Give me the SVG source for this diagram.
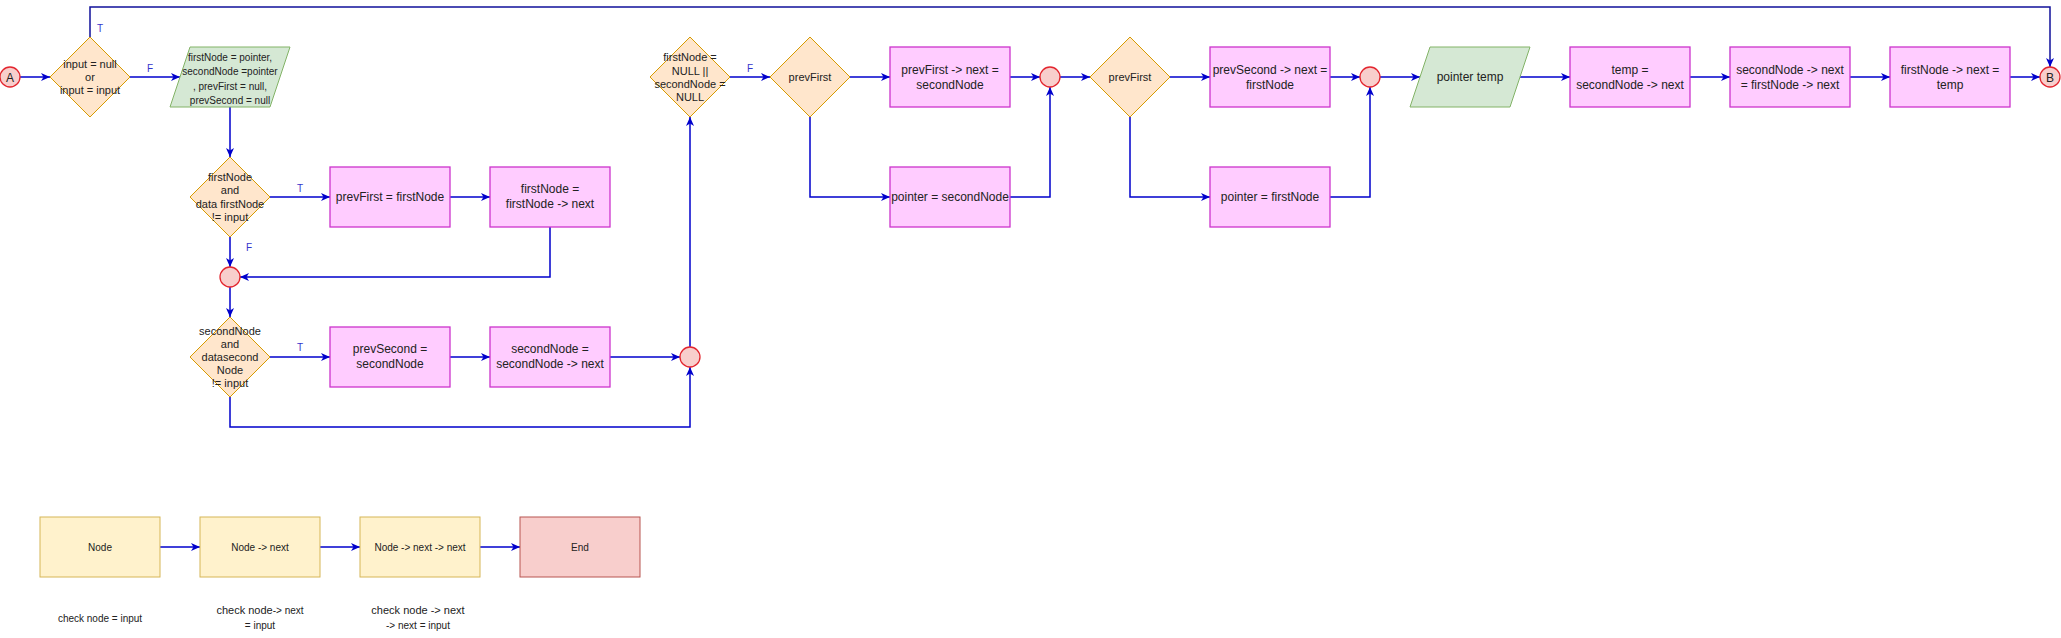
<svg xmlns="http://www.w3.org/2000/svg" width="2061" height="638" viewBox="0 0 2061 638">
<style>
text{font-family:"Liberation Sans",Arial,sans-serif;fill:#222;text-anchor:middle}
.dia{fill:#ffe6cc;stroke:#d79b00;stroke-width:1}
.proc{fill:#ffccff;stroke:#cc33cc;stroke-width:1.3}
.io{fill:#d5e8d4;stroke:#82b366;stroke-width:1}
.con{fill:#f8cecc;stroke:#e3262f;stroke-width:1.3}
.yel{fill:#fff2cc;stroke:#d6b656;stroke-width:1}
.end{fill:#f8cecc;stroke:#b85450;stroke-width:1}
.e{fill:none;stroke:#0000cc;stroke-width:1.5;marker-end:url(#arr)}
.top{stroke:#10109a}
.lbl{font-size:10px;fill:#3333cc}
.f10{font-size:10px}.f11{font-size:11px}.f12{font-size:12px}
</style>
<defs>
<marker id="arr" markerUnits="userSpaceOnUse" markerWidth="10" markerHeight="8" refX="9" refY="4" orient="auto">
<path d="M0,0 L9,4 L0,8 L2.5,4 z" fill="#0000cc"/>
</marker>
</defs>

<g id="connectors">
<path class="e" d="M20,77 H50"/>
<path class="e" d="M130,77 H180"/>
<path class="e top" d="M90,37 V7 H2050 V67"/>
<path class="e" d="M230,107 V157"/>
<path class="e" d="M270,197 H330"/>
<path class="e" d="M450,197 H490"/>
<path class="e" d="M550,227 V277 H240"/>
<path class="e" d="M230,237 V267"/>
<path class="e" d="M230,287 V317"/>
<path class="e" d="M270,357 H330"/>
<path class="e" d="M450,357 H490"/>
<path class="e" d="M610,357 H680"/>
<path class="e" d="M230,397 V427 H690 V367"/>
<path class="e" d="M690,347 V117"/>
<path class="e" d="M730,77 H770"/>
<path class="e" d="M850,77 H890"/>
<path class="e" d="M1010,77 H1040"/>
<path class="e" d="M810,117 V197 H890"/>
<path class="e" d="M1010,197 H1050 V87"/>
<path class="e" d="M1060,77 H1090"/>
<path class="e" d="M1170,77 H1210"/>
<path class="e" d="M1330,77 H1360"/>
<path class="e" d="M1130,117 V197 H1210"/>
<path class="e" d="M1330,197 H1370 V87"/>
<path class="e" d="M1380,77 H1420"/>
<path class="e" d="M1520,77 H1570"/>
<path class="e" d="M1690,77 H1730"/>
<path class="e" d="M1850,77 H1890"/>
<path class="e" d="M2010,77 H2040"/>
<path class="e" d="M160,547 H200"/>
<path class="e" d="M320,547 H360"/>
<path class="e" d="M480,547 H520"/>
<text class="lbl" x="100" y="31.5">T</text>
<text class="lbl" x="150" y="71.5">F</text>
<text class="lbl" x="300" y="191.5">T</text>
<text class="lbl" x="249" y="250.5">F</text>
<text class="lbl" x="300" y="350.5">T</text>
<text class="lbl" x="750" y="71.5">F</text>
</g>

<g id="startA"><circle class="con" cx="10" cy="77" r="10"/><text class="f12" x="10" y="81.5">A</text></g>

<g id="dec1"><path class="dia" d="M90,37 L130,77 L90,117 L50,77 z"/>
<text class="f11"><tspan x="90" y="68">input = null</tspan><tspan x="90" y="81">or</tspan><tspan x="90" y="94">input = input</tspan></text></g>

<g id="init"><path class="io" d="M190,47 H290 L270,107 H170 z"/>
<text class="f10"><tspan x="230" y="60.5">firstNode = pointer,</tspan><tspan x="230" y="74.5">secondNode =pointer</tspan><tspan x="230" y="89.5">, prevFirst = null,</tspan><tspan x="230" y="103.5">prevSecond = null</tspan></text></g>

<g id="dec2"><path class="dia" d="M230,157 L270,197 L230,237 L190,197 z"/>
<text class="f11"><tspan x="230" y="181">firstNode</tspan><tspan x="230" y="194">and</tspan><tspan x="230" y="208">data firstNode</tspan><tspan x="230" y="221">!= input</tspan></text></g>

<g id="p1"><rect class="proc" x="330" y="167" width="120" height="60"/><text class="f12" x="390" y="201">prevFirst = firstNode</text></g>
<g id="p2"><rect class="proc" x="490" y="167" width="120" height="60"/><text class="f12"><tspan x="550" y="193">firstNode =</tspan><tspan x="550" y="208">firstNode -&gt; next</tspan></text></g>

<g id="join1"><circle class="con" cx="230" cy="277" r="10"/></g>

<g id="dec3"><path class="dia" d="M230,317 L270,357 L230,397 L190,357 z"/>
<text class="f11"><tspan x="230" y="335">secondNode</tspan><tspan x="230" y="348">and</tspan><tspan x="230" y="361">datasecond</tspan><tspan x="230" y="374">Node</tspan><tspan x="230" y="387">!= input</tspan></text></g>

<g id="p3"><rect class="proc" x="330" y="327" width="120" height="60"/><text class="f12"><tspan x="390" y="353">prevSecond =</tspan><tspan x="390" y="368">secondNode</tspan></text></g>
<g id="p4"><rect class="proc" x="490" y="327" width="120" height="60"/><text class="f12"><tspan x="550" y="353">secondNode =</tspan><tspan x="550" y="368">secondNode -&gt; next</tspan></text></g>

<g id="join2"><circle class="con" cx="690" cy="357" r="10"/></g>

<g id="dec4"><path class="dia" d="M690,37 L730,77 L690,117 L650,77 z"/>
<text class="f11"><tspan x="690" y="61">firstNode =</tspan><tspan x="690" y="75">NULL ||</tspan><tspan x="690" y="88">secondNode =</tspan><tspan x="690" y="101">NULL</tspan></text></g>

<g id="dec5"><path class="dia" d="M810,37 L850,77 L810,117 L770,77 z"/><text class="f11" x="810" y="81">prevFirst</text></g>
<g id="p5"><rect class="proc" x="890" y="47" width="120" height="60"/><text class="f12"><tspan x="950" y="74">prevFirst -&gt; next =</tspan><tspan x="950" y="89">secondNode</tspan></text></g>
<g id="p6"><rect class="proc" x="890" y="167" width="120" height="60"/><text class="f12" x="950" y="201">pointer = secondNode</text></g>
<g id="join3"><circle class="con" cx="1050" cy="77" r="10"/></g>

<g id="dec6"><path class="dia" d="M1130,37 L1170,77 L1130,117 L1090,77 z"/><text class="f11" x="1130" y="81">prevFirst</text></g>
<g id="p7"><rect class="proc" x="1210" y="47" width="120" height="60"/><text class="f12"><tspan x="1270" y="74">prevSecond -&gt; next =</tspan><tspan x="1270" y="89">firstNode</tspan></text></g>
<g id="p8"><rect class="proc" x="1210" y="167" width="120" height="60"/><text class="f12" x="1270" y="201">pointer = firstNode</text></g>
<g id="join4"><circle class="con" cx="1370" cy="77" r="10"/></g>

<g id="tempdecl"><path class="io" d="M1430,47 H1530 L1510,107 H1410 z"/><text class="f12" x="1470" y="81">pointer temp</text></g>
<g id="p9"><rect class="proc" x="1570" y="47" width="120" height="60"/><text class="f12"><tspan x="1630" y="74">temp =</tspan><tspan x="1630" y="89">secondNode -&gt; next</tspan></text></g>
<g id="p10"><rect class="proc" x="1730" y="47" width="120" height="60"/><text class="f12"><tspan x="1790" y="74">secondNode -&gt; next</tspan><tspan x="1790" y="89">= firstNode -&gt; next</tspan></text></g>
<g id="p11"><rect class="proc" x="1890" y="47" width="120" height="60"/><text class="f12"><tspan x="1950" y="74">firstNode -&gt; next =</tspan><tspan x="1950" y="89">temp</tspan></text></g>
<g id="endB"><circle class="con" cx="2050" cy="77" r="10"/><text class="f12" x="2050" y="81.5">B</text></g>

<g id="n1"><rect class="yel" x="40" y="517" width="120" height="60"/><text class="f10" x="100" y="550.5">Node</text></g>
<g id="n2"><rect class="yel" x="200" y="517" width="120" height="60"/><text class="f10" x="260" y="550.5">Node -&gt; next</text></g>
<g id="n3"><rect class="yel" x="360" y="517" width="120" height="60"/><text class="f10" x="420" y="550.5">Node -&gt; next -&gt; next</text></g>
<g id="n4"><rect class="end" x="520" y="517" width="120" height="60"/><text class="f10" x="580" y="550.5">End</text></g>

<g id="notes">
<text class="f10" x="100" y="621.5">check node = input</text>
<text x="260" y="614"><tspan class="f11">check node</tspan><tspan class="f10">-&gt; next</tspan></text>
<text class="f10" x="260" y="628.5">= input</text>
<text class="f11" x="418" y="614">check node -&gt; next</text>
<text class="f10" x="418" y="628.5">-&gt; next = input</text>
</g>
</svg>
